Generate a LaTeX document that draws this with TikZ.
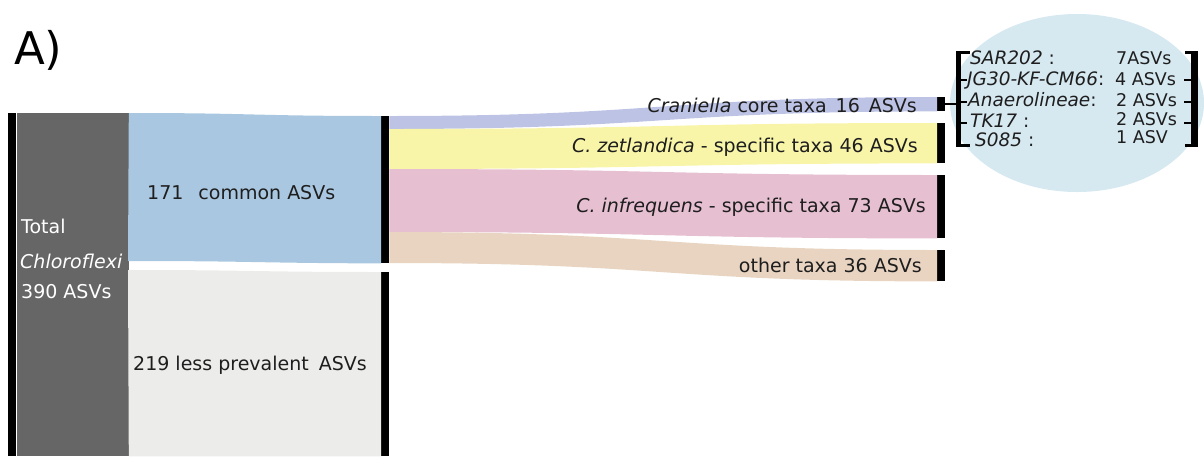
\documentclass[tikz,border=0pt]{standalone}
\usepackage{fontspec}
\setmainfont{DejaVu Sans}
\usetikzlibrary{positioning, shapes.geometric}

\definecolor{totalgray}{HTML}{666666}
\definecolor{commonblue}{HTML}{A9C7E0}
\definecolor{raregray}{HTML}{ECECEA}
\definecolor{coreviolet}{HTML}{BDC3E4}
\definecolor{zetyellow}{HTML}{F8F5A9}
\definecolor{infpink}{HTML}{E6BFD1}
\definecolor{othertan}{HTML}{E8D4C1}
\definecolor{groupblue}{HTML}{D6E8F0}
\definecolor{labeltext}{HTML}{1E1E1E}

\begin{document}
\begin{tikzpicture}[x=1pt,y=-1pt,
    bar/.style={fill=black,inner sep=0pt,minimum width=8pt,anchor=north west},
    lab/.style={font=\fontsize{19}{22}\selectfont,text=labeltext,inner sep=0pt},
    row/.style={font=\fontsize{18.5}{20}\selectfont,text=labeltext,inner sep=0pt,anchor=base west},
    count/.style={row,font=\fontsize{17.5}{20}\selectfont}]
    \useasboundingbox (0,0) rectangle (1204,456);

    \node[anchor=base west,inner sep=0pt,font=\fontsize{45}{50}\selectfont] (title) at (14,64) {A)};

    \node[bar,minimum height=343pt] (totbar) at (8,113) {};
    \node[fill=totalgray,inner sep=0pt,minimum width=112pt,minimum height=343pt,anchor=north west] (total) at (totbar.north east) {};
    \node[bar,minimum height=147pt] (combar) at (381,116) {};
    \node[bar,minimum height=184pt] (rarebar) at (381,272) {};

    \fill[commonblue] (total.north east) .. controls (254,113) and (254,116) .. (combar.north west)
        -- (combar.south west) .. controls (254,263) and (254,261) .. (128,261) -- cycle;
    \fill[raregray] (128,270) .. controls (254,270) and (254,272) .. (rarebar.north west)
        -- (rarebar.south west) -- (total.south east) -- cycle;

    \node[lab,text=white,anchor=base west] (tot1) at (21,233) {Total};
    \node[lab,text=white,anchor=base west] (tot2) at (20,268) {\textit{Chloroflexi}};
    \node[lab,text=white,anchor=base west] (tot3) at (21,298) {390 ASVs};
    \node[lab,anchor=base west] (comlab) at (147,199) {171\hspace{15pt}common ASVs};
    \node[lab,anchor=base west] (rarelab) at (133,370) {219 less prevalent\hspace{10pt}ASVs};

    \node[bar,minimum height=14pt] (corebar) at (937,97) {};
    \node[bar,minimum height=40pt] (zetbar) at (937,123) {};
    \node[bar,minimum height=63pt] (infbar) at (937,175) {};
    \node[bar,minimum height=31pt] (othbar) at (937,250) {};

    \foreach \col/\ya/\yb/\dst in {coreviolet/116/129/corebar, zetyellow/129/169/zetbar,
                                  infpink/169/232/infbar, othertan/232/263/othbar}
        \fill[\col] (combar.east |- 0,\ya) .. controls (663,\ya) and (663,0 |- \dst.north) .. (\dst.north west)
            -- (\dst.south west) .. controls (663,0 |- \dst.south) and (663,\yb) .. (combar.east |- 0,\yb) -- cycle;

    \node[lab,anchor=base east] (corelab) at (917,112) {\textit{Craniella} core taxa\hspace{9pt}16\hspace{9pt}ASVs};
    \node[lab,anchor=base east] (zetlab) at (918,152) {\textit{C. zetlandica} - specific taxa 46 ASVs};
    \node[lab,anchor=base east] (inflab) at (926,212) {\textit{C. infrequens} - specific taxa 73 ASVs};
    \node[lab,anchor=base east] (othlab) at (922,272) {other taxa 36 ASVs};

    \node[ellipse,fill=groupblue,minimum width=254pt,minimum height=178pt,inner sep=0pt] (group) at (1077,103) {};
    \node[bar,minimum width=5pt,minimum height=96pt] (lbrk) at (956,51) {};
    \node[bar,minimum width=7pt,minimum height=96pt] (rbrk) at (1191,51) {};
    \fill (lbrk.north east) rectangle ++(9,3);
    \fill (lbrk.south east) rectangle ++(9,-3);
    \fill (rbrk.north west) rectangle ++(-6,3);
    \fill (rbrk.south west) rectangle ++(-6,-3);
    \foreach \ty in {80,102,123} {
        \draw[line width=1.5pt] (lbrk.east |- 0,\ty) -- ++(6,0);
        \draw[line width=1.5pt] (rbrk.west |- 0,\ty) -- ++(-7,0);
    }
    \draw[line width=1.5pt] (corebar.east) -- (corebar.east -| lbrk.west);

    \node[row] (sar) at (970,64) {\textit{SAR202} :};
    \node[row] (jg) at (967,85) {\textit{JG30-KF-CM66}:};
    \node[row] (anae) at (968,106) {\textit{Anaerolineae}:};
    \node[row] (tk) at (970,127) {\textit{TK17} :};
    \node[row] (sz) at (975,146) {\textit{S085} :};
    \node[count] (sarn) at (1116,64) {7ASVs};
    \node[count] (jgn) at (1115,85) {4 ASVs};
    \node[count] (anaen) at (1116,106) {2 ASVs};
    \node[count] (tkn) at (1116,125) {2 ASVs};
    \node[count] (szn) at (1116,143) {1 ASV};
\end{tikzpicture}
\end{document}
